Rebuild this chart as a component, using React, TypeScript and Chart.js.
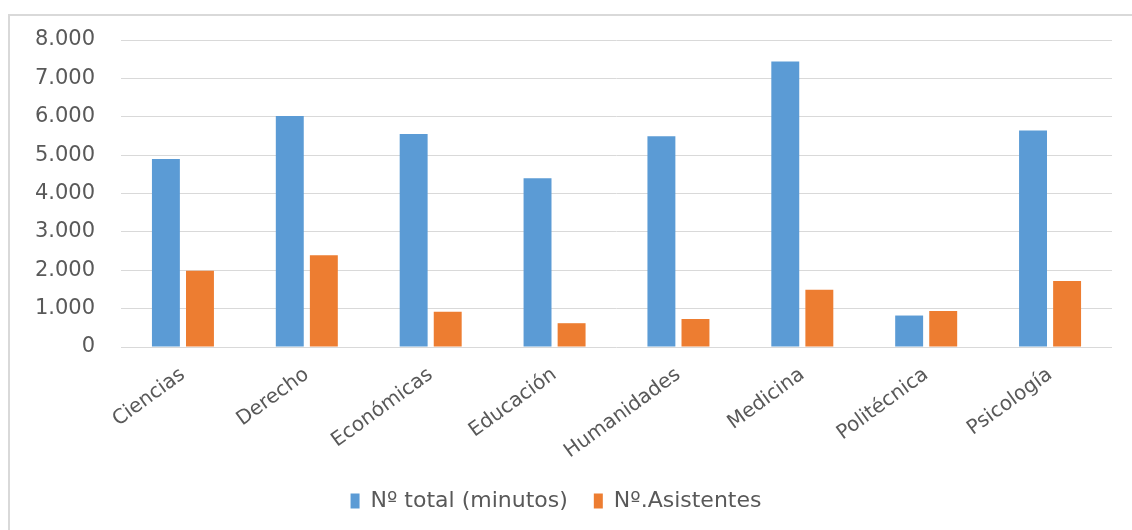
import React, { useEffect, useRef } from "react";
import { Chart, registerables } from "chart.js";

Chart.register(...registerables);

const categories = [
  "Ciencias",
  "Derecho",
  "Económicas",
  "Educación",
  "Humanidades",
  "Medicina",
  "Politécnica",
  "Psicología",
];
const totalMinutes = [4900, 6020, 5550, 4400, 5490, 7440, 820, 5640];
const attendees = [1990, 2390, 920, 620, 730, 1490, 940, 1720];
const seriesNames = ["Nº total (minutos)", "Nº.Asistentes"];
const yMin = 0;
const yMax = 8000;
const yStep = 1000;

function fmt(v: number): string {
  return String(Math.round(v)).replace(/\B(?=(\d{3})+(?!\d))/g, ".");
}

const FONT = "DejaVu Sans";
const TEXT = "#595959";

export default function App() {
  const ref = useRef<HTMLCanvasElement | null>(null);

  useEffect(() => {
    if (!ref.current) return;
    const chart = new Chart(ref.current, {
      type: "bar",
      data: {
        labels: categories,
        datasets: [
          {
            label: seriesNames[0],
            data: totalMinutes,
            backgroundColor: "#5B9BD5",
            borderColor: "#ffffff",
            borderWidth: 0,
            barPercentage: 0.82,
            categoryPercentage: 0.55,
          },
          {
            label: seriesNames[1],
            data: attendees,
            backgroundColor: "#ED7D31",
            borderColor: "#ffffff",
            borderWidth: 0,
            barPercentage: 0.82,
            categoryPercentage: 0.55,
          },
        ],
      },
      options: {
        responsive: false,
        animation: false,
        layout: { padding: { left: 0, right: 20, top: 40, bottom: 8 } },
        plugins: {
          tooltip: { enabled: false },
          legend: {
            position: "bottom",
            labels: {
              boxWidth: 9,
              boxHeight: 15,
              padding: 26,
              color: TEXT,
              font: { family: FONT, size: 22 },
            },
          },
        },
        scales: {
          x: {
            grid: { display: false },
            border: { display: false },
            ticks: {
              color: TEXT,
              font: { family: FONT, size: 20 },
              minRotation: 36,
              maxRotation: 36,
              padding: 8,
              autoSkip: false,
            },
            afterFit: (scale: any) => {
              scale.height = 117;
            },
          },
          y: {
            min: yMin,
            max: yMax,
            grid: { color: "#d9d9d9", lineWidth: 1, drawTicks: false },
            border: { display: false },
            ticks: {
              stepSize: yStep,
              color: TEXT,
              font: { family: FONT, size: 21 },
              padding: 26,
              callback: (v: any) => fmt(Number(v)),
            },
            afterFit: (scale: any) => {
              scale.width = 121;
            },
          },
        },
      },
    });
    return () => chart.destroy();
  }, []);

  return (
    <div
      style={{
        position: "fixed",
        left: 0,
        top: 0,
        width: 1132,
        height: 530,
        overflow: "hidden",
        background: "#ffffff",
      }}
    >
      <div
        style={{
          position: "absolute",
          left: 8,
          top: 14,
          width: 1200,
          height: 600,
          borderLeft: "2px solid #d9d9d9",
          borderTop: "2px solid #d9d9d9",
        }}
      />
      <canvas
        ref={ref}
        width={1132}
        height={530}
        style={{ position: "absolute", left: 0, top: 0, width: 1132, height: 530 }}
      />
    </div>
  );
}
